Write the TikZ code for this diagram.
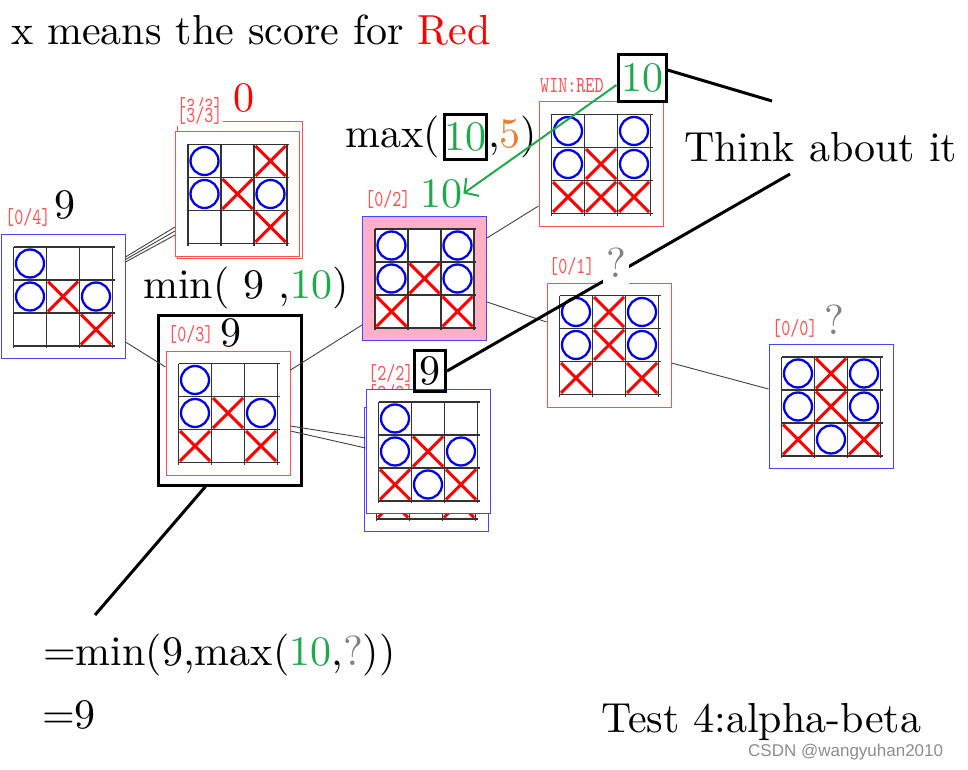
\documentclass[tikz,border=0pt]{standalone}
\usepackage{fontspec}
\setmainfont{lmroman10-regular}[Extension=.otf]
\setmonofont{lmmono10-regular}[Extension=.otf]
\newfontfamily\tagmono{lmmono10-regular}[Extension=.otf, FakeStretch=0.75]
\newfontfamily\wmfont{Liberation Sans}
\usetikzlibrary{arrows.meta,positioning}

\definecolor{xred}{RGB}{255,0,0}
\definecolor{oblue}{RGB}{0,0,235}
\definecolor{framered}{RGB}{255,80,80}
\definecolor{frameblue}{RGB}{70,70,255}
\definecolor{nodepink}{RGB}{255,175,200}
\definecolor{scoregreen}{RGB}{30,170,75}
\definecolor{scoreorange}{RGB}{245,120,40}

\newcommand{\bigfont}{\fontsize{42}{50}\selectfont}
\newcommand{\tagfont}{\tagmono\fontsize{23}{26}\selectfont}

\tikzset{
  board/.style={draw, fill=white, line width=1pt, inner sep=0pt,
    minimum width=124, minimum height=124},
  redboard/.style={board, draw=framered},
  blueboard/.style={board, draw=frameblue},
  pinkboard/.style={blueboard, fill=nodepink},
  gridline/.style={black!80, line width=1.3pt},
  omark/.style={draw=oblue, line width=2.3pt},
  xmark/.style={draw=xred, line width=3pt},
  tag/.style={anchor=base west, font=\tagfont, text=framered, fill=white, inner sep=1pt},
  score/.style={anchor=base west, font=\bigfont, fill=white, inner sep=1pt},
  qmark/.style={score, text=gray, inner sep=3pt, text depth=5pt},
  txt/.style={anchor=base west, font=\bigfont, inner sep=0pt},
  boxnum/.style={draw, line width=3pt, font=\bigfont, inner sep=0pt},
  link/.style={draw=black!75, line width=0.9pt},
  callout/.style={line width=3pt},
}

% board marks: node, O cells, X cells (column/row)
\newcommand{\tictac}[3]{%
  \begin{scope}[shift={(#1.center)}]
    \fill[white] (-49.5,-49.5) rectangle (49.5,49.5);
    \foreach \k in {-1.5,-0.5,0.5,1.5} {
      \draw[gridline] (\k*33,-49.5) -- (\k*33,51.5);
      \draw[gridline] (-49.5,\k*33) -- (51.5,\k*33);
    }
    \foreach \cx/\cy in {#2}
      \draw[omark] ({(\cx-2)*33},{(\cy-2)*33}) circle (14pt);
    \foreach \cx/\cy in {#3}
      \draw[xmark] ({(\cx-2)*33-15},{(\cy-2)*33-15}) -- +(30,30)
                   ({(\cx-2)*33-15},{(\cy-2)*33+15}) -- +(30,-30);
  \end{scope}}

\begin{document}
\begin{tikzpicture}[x=1pt,y=-1pt]
\useasboundingbox (0,0) rectangle (968,770);

% boards lying underneath
\node[redboard, minimum width=125, minimum height=136] (n33back) at (239.5,190) {};
\node[blueboard] (n22back) at (426,469.5) {};
\tictac{n22back}{1/1,1/2,3/2}{2/2,1/3,3/3}
\node[tag] (t33back) at (176,114) {[3/3]};
\node[tag] (t22back) at (367,400) {[2/2]};

% search tree
\node[blueboard] (n04) at (63,296.5) {};
\node[redboard] (n33) at (237.5,194) {};
\node[redboard] (n03) at (228,413) {};
\node[pinkboard] (n02) at (424.5,278.5) {};
\node[redboard] (nwin) at (601,164) {};
\node[redboard] (n01) at (609,345) {};
\node[blueboard] (n00) at (831,406.5) {};
\node[blueboard] (n22) at (428,451.5) {};
\tictac{n04}{1/1,1/2,3/2}{2/2,3/3}
\tictac{n33}{1/1,1/2,3/2}{3/1,2/2,3/3}
\tictac{n03}{1/1,1/2,3/2}{2/2,1/3,3/3}
\tictac{n02}{1/1,3/1,1/2,3/2}{2/2,1/3,3/3}
\tictac{nwin}{1/1,3/1,1/2,3/2}{2/2,1/3,2/3,3/3}
\tictac{n01}{1/1,3/1,1/2,3/2}{2/1,2/2,1/3,3/3}
\tictac{n00}{1/1,3/1,1/2,3/2,2/3}{2/1,2/2,1/3,3/3}
\tictac{n22}{1/1,1/2,3/2,2/3}{2/2,1/3,3/3}
\node[draw, line width=3pt, minimum width=143, minimum height=170] (n03box) at (229.5,400) {};

\draw[link] ([yshift=39.5]n04.east) -- ([yshift=-33]n33.west);
\draw[link] ([yshift=37]n04.east) -- ([yshift=-37]n33.west);
\draw[link] ([yshift=34.5]n04.east) -- ([yshift=-41]n33.west);
\draw[link] ([yshift=-45.5]n04.east) -- ([yshift=46]n03.west);
\draw[link] ([yshift=43]n03.east) -- ([yshift=-46.5]n02.west);
\draw[link] ([yshift=-13]n03.east) -- ([yshift=13.5]n22.west);
\draw[link] ([yshift=-18]n03.east) -- ([yshift=3.5]n22.west);
\draw[link] ([yshift=40.5]n02.east) -- ([yshift=-42]nwin.west);
\draw[link] ([yshift=-23.5]n02.east) -- ([yshift=23]n01.west);
\draw[link] ([yshift=-18]n01.east) -- ([yshift=17.5]n00.west);

% labels and scores
\node[tag] (t04) at (4,224) {[0/4]};
\node[tag] (t33) at (176,123) {[3/3]};
\node[tag] (t03) at (167,341) {[0/3]};
\node[tag] (t02) at (364,206) {[0/2]};
\node[tag] (twin) at (539,93) {WIN:RED};
\node[tag] (t01) at (548,273) {[0/1]};
\node[tag] (t00) at (771,335) {[0/0]};
\node[tag] (t22) at (367,380) {[2/2]};
\node[score] (s04) at (53,218) {9};
\node[score, text=xred] (s33) at (232,112) {0};
\node[score] (s03) at (219,346) {9};
\node[score, text=scoregreen] (s02) at (419,207) {10};

% notes
\node[txt] (title) at (11,45) {x means the score for {\color{xred}Red}};
\node[txt] (think) at (684,162) {Think about it};
\node[txt] (minsum) at (143,298) {min( 9 ,{\color{scoregreen}10})};
\node[txt] (maxl) at (345,148) {max(};
\node[boxnum, minimum width=42, minimum height=45, text=scoregreen] (maxbox) at (465.5,137) {10};
\node[txt] (maxr) at (maxbox.east |- maxl.base) {,{\color{scoreorange}5})};
\node[txt] (calc) at (43,665) {=min(9,max({\color{scoregreen}10},{\color{gray}?}))};
\node[txt] (result) at (42,728) {=9};
\node[txt] (test) at (601,732) {Test 4:alpha-beta};
\node[anchor=base west, inner sep=0pt, font=\wmfont\fontsize{17}{20}\selectfont, text=black!45] (mark) at (748,756) {CSDN @wangyuhan2010};

\node[boxnum, minimum width=48, minimum height=47, text=scoregreen] (top10) at (642,78) {10};
\node[boxnum, minimum width=31, minimum height=41] (nine) at (430,371) {9};
\coordinate (end1) at (772,101);
\coordinate (end2) at (790,174);
\coordinate (end3) at (95,615);
\draw[callout] ([yshift=8]top10.east) -- (end1);
\draw[callout] (nine.east) -- (end2);
\draw[callout] ([xshift=-24]n03box.south) -- (end3);
\draw[scoregreen, line width=2pt, -{Straight Barb[length=10pt,width=22pt]}] ([yshift=-7]top10.west) -- (s02.east);

\node[qmark] (s01) at (603,277) {?};
\node[qmark] (s00) at (821,334) {?};
\end{tikzpicture}
\end{document}
